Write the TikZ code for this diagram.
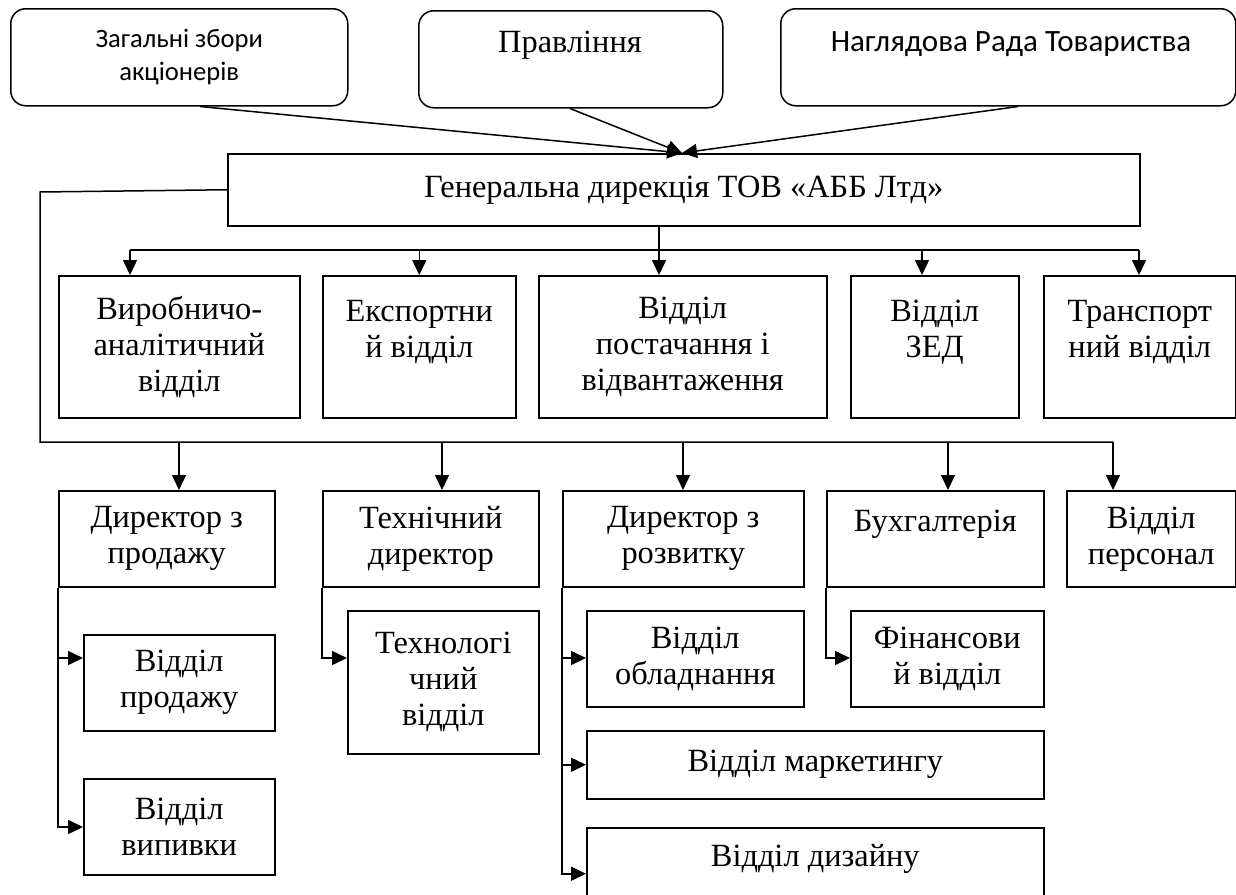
\documentclass[tikz,border=0pt]{standalone}
\usepackage{fontspec}
\setmainfont{Liberation Serif}
\newfontfamily\calibrifont{Carlito}
\usetikzlibrary{arrows.meta}
\tikzset{
  base/.style={draw, line width=.75pt, inner sep=0pt, align=center, anchor=north west,
    font=\fontsize{16.2}{18}\selectfont},
  rbox/.style={base, rounded corners=7.5pt},
  sbox/.style={base},
  conn/.style={line width=.75pt},
  arr/.style={conn, -{Triangle[length=7.5pt,width=7pt]}},
  txt/.style={inner sep=0pt, align=center}
}
\begin{document}
\begin{tikzpicture}[x=0.5pt,y=-0.5pt]
\useasboundingbox (0,0) rectangle (1236,894);
\clip (0,0) rectangle (1236,894);
% top boxes
\node[rbox, minimum width=168.5pt, minimum height=48.5pt,
  font=\calibrifont\fontsize{13.3}{16.5}\selectfont] (A) at (10,8) {Загальні збори\\акціонерів};
\node[rbox, minimum width=152pt, minimum height=48.5pt] (B) at (418,10) {};
\node[txt, font=\fontsize{16.2}{18}\selectfont] (Bt) at (570,45) {Правління};
\node[rbox, minimum width=227.5pt, minimum height=48.5pt] (C) at (780,8) {};
\node[txt, font=\calibrifont\fontsize{15.5}{18}\selectfont] (Ct) at (1011,44) {Наглядова Рада Товариства};
% general directorate
\node[sbox, minimum width=456pt, minimum height=36pt] (GD) at (227,153) {Генеральна дирекція ТОВ «АББ Лтд»};
% row 1
\node[sbox, minimum width=120.5pt, minimum height=71pt] (R1a) at (58,275) {Виробничо-\\аналітичний\\відділ};
\node[sbox, minimum width=96.5pt, minimum height=71pt] (R1b) at (322,275) {Експортни\\й відділ\\\mbox{}};
\node[sbox, minimum width=144pt, minimum height=71pt] (R1c) at (538,275) {Відділ\\постачання і\\відвантаження};
\node[sbox, minimum width=84pt, minimum height=71pt] (R1d) at (850,275) {Відділ\\ЗЕД\\\mbox{}};
\node[sbox, minimum width=96pt, minimum height=71pt] (R1e) at (1043,275) {Транспорт\\ний відділ\\\mbox{}};
% row 2
\node[sbox, minimum width=108pt, minimum height=48pt] (R2a) at (58,490) {Директор з\\продажу};
\node[sbox, minimum width=108pt, minimum height=48pt] (R2b) at (322,490) {Технічний\\директор};
\node[sbox, minimum width=120.5pt, minimum height=48pt] (R2c) at (562,490) {Директор з\\розвитку};
\node[sbox, minimum width=108.5pt, minimum height=48pt] (R2d) at (826,490) {Бухгалтерія\\\mbox{}};
\node[sbox, minimum width=84.5pt, minimum height=48pt] (R2e) at (1066,490) {Відділ\\персонал};
% sub boxes
\node[sbox, minimum width=95.5pt, minimum height=48pt] (prod) at (83,634) {Відділ\\продажу};
\node[sbox, minimum width=95.5pt, minimum height=48pt] (vyp) at (83,778) {Відділ\\випивки};
\node[sbox, minimum width=95.5pt, minimum height=71.5pt] (tech) at (347,610) {Технологі\\чний\\відділ};
\node[sbox, minimum width=108.5pt, minimum height=48pt] (obl) at (586,610) {Відділ\\обладнання};
\node[sbox, minimum width=96.5pt, minimum height=48pt] (fin) at (850,610) {Фінансови\\й відділ};
\node[sbox, minimum width=228.5pt, minimum height=34pt] (mark) at (586,730) {Відділ маркетингу};
\node[sbox, minimum width=228.5pt, minimum height=46pt] (diz) at (586,827) {Відділ дизайну\\\mbox{}};
% helper coordinates
\coordinate (tip) at (682,153);
\coordinate (xA) at (200,0);
\coordinate (xB) at (570,0);
\coordinate (xC) at (1018,0);
\coordinate (gdout) at (659,250);
\coordinate (b1L) at (130,250);
\coordinate (b1R) at (1139,250);
\coordinate (b1d) at (922,250);
\coordinate (lc) at (40,192);
\coordinate (lb) at (40,442);
\coordinate (t2a) at (179,442);
\coordinate (t2b) at (442,442);
\coordinate (t2c) at (683,442);
\coordinate (t2d) at (948,442);
\coordinate (b2R) at (1113,442);
\coordinate (ya) at (0,658);
\coordinate (yv) at (0,827);
% top connectors
\draw[arr] (A.south -| xA) -- (tip);
\draw[arr] (B.south -| xB) -- (tip);
\draw[arr] (C.south -| xC) -- (tip);
% row 1 bus
\draw[conn] (GD.south -| gdout) -- (gdout);
\draw[conn] (b1L) -- (b1R);
\draw[arr] (b1L) -- (R1a.north -| b1L);
\draw[arr] (R1b.north |- b1L) -- (R1b.north);
\draw[arr] (gdout) -- (R1c.north -| gdout);
\draw[arr] (b1d) -- (R1d.north -| b1d);
\draw[arr] (b1R) -- (R1e.north -| b1R);
% row 2 bus
\draw[conn] (GD.west) -- (lc) -- (lb) -- (b2R);
\draw[arr] (t2a) -- (R2a.north -| t2a);
\draw[arr] (t2b) -- (R2b.north -| t2b);
\draw[arr] (t2c) -- (R2c.north -| t2c);
\draw[arr] (t2d) -- (R2d.north -| t2d);
\draw[arr] (b2R) -- (R2e.north -| b2R);
% sub connectors
\draw[arr] (R2a.south west) |- (prod.west |- ya);
\draw[arr] (R2a.south west) |- (vyp.west |- yv);
\draw[arr] (R2b.south west) |- (tech.west |- ya);
\draw[arr] (R2c.south west) |- (obl.west |- ya);
\draw[arr] (R2c.south west) |- (mark.west);
\draw[arr] (R2c.south west) |- (diz.west);
\draw[arr] (R2d.south west) |- (fin.west |- ya);
\end{tikzpicture}
\end{document}
